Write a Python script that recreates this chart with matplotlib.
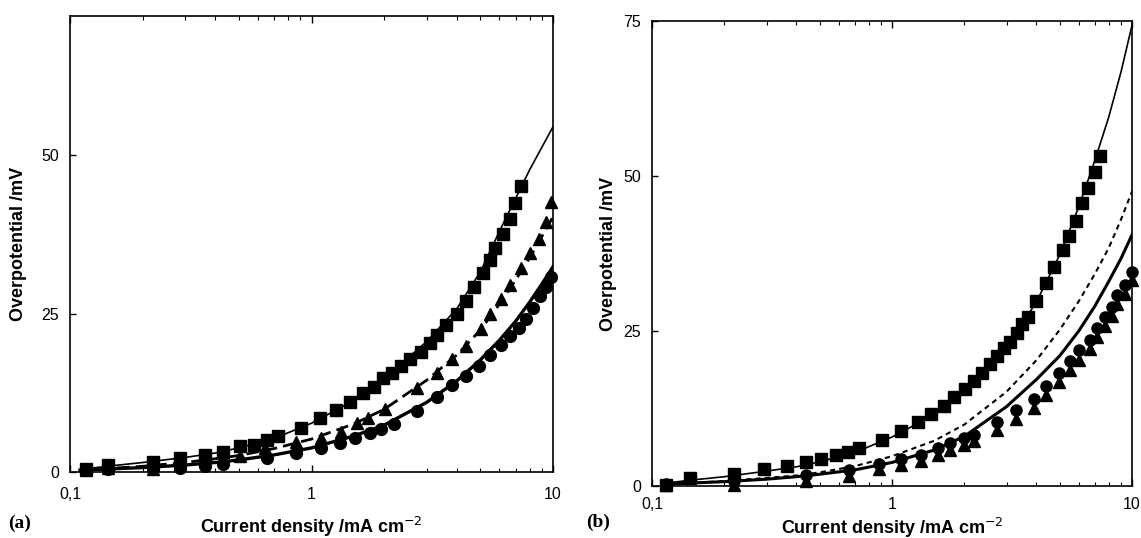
import matplotlib
matplotlib.use("Agg")
import matplotlib.pyplot as plt
from matplotlib.ticker import FixedLocator, FixedFormatter, LogLocator, NullFormatter

# ---- panel (a) data ----
a_sq_x = [0.116, 0.143, 0.22, 0.285, 0.363, 0.432, 0.505, 0.58, 0.654, 0.725, 0.908, 1.08, 1.26, 1.45,
          1.63, 1.81, 1.98, 2.15, 2.35, 2.56, 2.84, 3.10, 3.32, 3.61, 4.01, 4.37, 4.69, 5.11, 5.47,
          5.76, 6.18, 6.62, 6.97, 7.34]
a_sq_y = [0.5, 1.1, 1.6, 2.2, 2.7, 3.2, 4.1, 4.3, 5.1, 5.7, 7.0, 8.6, 9.8, 11.1,
          12.4, 13.5, 14.9, 15.7, 16.8, 17.8, 18.9, 20.3, 21.6, 23.2, 24.9, 27.0, 29.2, 31.4, 33.5,
          35.4, 37.6, 40.0, 42.5, 45.2]

a_tri_x = [0.116, 0.143, 0.22, 0.285, 0.363, 0.432, 0.505, 0.643, 0.861, 1.10, 1.33, 1.55, 1.72, 2.01,
           2.74, 3.32, 3.81, 4.37, 5.02, 5.47, 6.07, 6.62, 7.34, 8.0, 8.73, 9.35, 9.85]
a_tri_y = [0.3, 0.6, 0.5, 1.3, 1.7, 2.1, 2.6, 3.8, 4.7, 5.4, 6.3, 7.8, 8.6, 9.9,
           13.2, 15.6, 17.8, 19.9, 22.6, 24.9, 27.3, 29.5, 32.2, 34.6, 36.8, 39.5, 42.7]

a_cir_x = [0.116, 0.143, 0.22, 0.285, 0.363, 0.432, 0.654, 0.861, 1.10, 1.31, 1.52, 1.75, 1.94, 2.19,
           2.74, 3.32, 3.81, 4.37, 4.93, 5.47, 6.07, 6.62, 7.21, 7.73, 8.28, 8.87, 9.35, 9.85]
a_cir_y = [0.3, 0.4, 0.4, 0.7, 1.0, 1.3, 2.2, 3.0, 3.8, 4.6, 5.4, 6.2, 6.8, 7.6,
           9.7, 11.9, 13.8, 15.1, 16.8, 18.4, 20.0, 21.4, 22.7, 24.1, 25.9, 27.8, 29.2, 30.8]

# fitted curves (read at these current densities)
fit_x = [0.11, 0.15, 0.2, 0.3, 0.4, 0.5, 0.7, 1, 1.5, 2, 3, 4, 5, 6, 7, 8, 9, 10]
a_fit_sq = [0.4, 1.0, 1.5, 2.3, 3.0, 3.8, 5.3, 7.7, 11.3, 14.8, 20.6, 25.8, 31.6, 38.0, 43.2, 47.7, 51.3, 54.5]
a_fit_tri = [0.3, 0.6, 0.9, 1.5, 2.1, 2.6, 3.7, 5.2, 7.6, 9.9, 14.5, 18.5, 22.4, 26.5, 30.3, 33.8, 37.2, 40.3]
a_fit_cir = [0.3, 0.5, 0.7, 1.1, 1.5, 1.9, 2.7, 3.8, 5.7, 7.4, 11.0, 14.4, 17.7, 20.8, 23.8, 26.8, 29.7, 32.4]

# ---- panel (b) data ----
b_sq_x = [0.114, 0.144, 0.219, 0.293, 0.365, 0.438, 0.507, 0.582, 0.653, 0.731, 0.907, 1.09, 1.28, 1.46,
          1.64, 1.82, 2.01, 2.19, 2.38, 2.56, 2.75, 2.93, 3.11, 3.31, 3.47, 3.67, 4.0, 4.38, 4.72,
          5.15, 5.49, 5.82, 6.20, 6.58, 6.98, 7.35]
b_sq_y = [0.2, 1.3, 1.9, 2.7, 3.3, 3.9, 4.4, 5.0, 5.5, 6.1, 7.5, 8.9, 10.3, 11.6,
          12.9, 14.4, 15.7, 17.0, 18.3, 19.6, 21.0, 22.2, 23.3, 24.7, 26.1, 27.2, 29.8, 32.8, 35.4,
          38.0, 40.3, 42.8, 45.6, 48.1, 50.6, 53.2]

b_ct_x = [0.114, 0.22, 0.44, 0.66, 0.885, 1.09, 1.32, 1.55, 1.75, 2.0, 2.19, 2.75, 3.3, 3.9, 4.4,
          4.97, 5.53, 6.03, 6.7, 7.18, 7.7, 8.25, 8.7, 9.33, 10.0]
b_cir_y = [0.3, 0.8, 1.7, 2.6, 3.6, 4.4, 5.0, 6.1, 6.9, 7.8, 8.3, 10.3, 12.2, 14.1, 16.1,
           18.3, 20.2, 21.9, 23.6, 25.5, 27.2, 28.8, 30.8, 32.4, 34.5]
b_tri_y = [0.1, 0.2, 0.8, 1.6, 2.7, 3.4, 4.0, 5.0, 5.8, 6.6, 7.2, 9.0, 10.8, 12.6, 14.6,
           16.8, 18.7, 20.4, 22.1, 24.0, 25.8, 27.4, 29.4, 31.0, 33.2]

b_fit_sq = [0.4, 1.0, 1.5, 2.4, 3.1, 3.9, 5.4, 7.9, 11.5, 15.0, 22.3, 29.7, 37.3, 45.0, 52.5, 59.5, 66.8, 74.3]
b_fit_dash = [0.2, 0.5, 0.8, 1.3, 1.7, 2.2, 3.2, 4.8, 7.3, 9.9, 15.2, 20.3, 25.2, 29.8, 34.2, 38.4, 43.0, 47.5]
b_fit_thick = [0.3, 0.5, 0.7, 1.1, 1.5, 1.9, 2.6, 3.8, 5.8, 8.0, 12.8, 17.2, 21.0, 25.0, 29.0, 33.0, 36.7, 40.5]

x_ticks = [0.1, 1, 10]
x_ticklabels = ["0,1", "1", "10"]

plt.rcParams['font.family'] = ['Liberation Sans', 'DejaVu Sans']

fig = plt.figure(figsize=(11.41, 5.38), dpi=100)
ax1 = fig.add_axes([70 / 1141, 66 / 538, 483 / 1141, 456 / 538])
ax2 = fig.add_axes([652 / 1141, 52 / 538, 480 / 1141, 465 / 538])

mk = dict(color='black', linestyle='none', clip_on=False, zorder=3)


def style_axis(ax, ymax, yticks, xpad):
    ax.set_xscale('log')
    ax.set_xlim(0.1, 10)
    ax.set_ylim(0, ymax)
    ax.xaxis.set_major_locator(FixedLocator(x_ticks))
    ax.xaxis.set_major_formatter(FixedFormatter(x_ticklabels))
    ax.xaxis.set_minor_locator(LogLocator(base=10, subs=range(2, 10)))
    ax.xaxis.set_minor_formatter(NullFormatter())
    ax.set_yticks(yticks)
    ax.tick_params(axis='x', which='major', direction='in', length=5, width=1, top=True,
                   labelsize=11.5, pad=xpad)
    ax.tick_params(axis='x', which='minor', direction='in', length=3, width=0.8, top=True)
    ax.tick_params(axis='y', direction='in', length=4, width=1, labelsize=11.5, pad=8)
    for s in ax.spines.values():
        s.set_linewidth(1.2)
    ax.set_xlabel('Current density /mA cm$^{\\mathsf{-2}}$', fontsize=13, fontweight='bold')
    ax.set_ylabel('Overpotential /mV', fontsize=13, fontweight='bold')


# panel (a)
ax1.plot(fit_x, a_fit_sq, color='black', lw=1.2)
ax1.plot(fit_x, a_fit_tri, color='black', lw=2, dashes=(4.5, 2.2))
ax1.plot(fit_x, a_fit_cir, color='black', lw=2.4)
ax1.plot(a_sq_x, a_sq_y, marker='s', markersize=8, **mk)
ax1.plot(a_tri_x, a_tri_y, marker='^', markersize=9, **mk)
ax1.plot(a_cir_x, a_cir_y, marker='o', markersize=8.5, **mk)
style_axis(ax1, 72, [0, 25, 50], 11)
ax1.xaxis.set_label_coords(0.5, -0.094)
ax1.yaxis.set_label_coords(-0.088, 0.5)

# panel (b)
ax2.plot(fit_x, b_fit_sq, color='black', lw=1.2)
ax2.plot(fit_x, b_fit_dash, color='black', lw=1.5, dashes=(2.5, 2))
ax2.plot(fit_x, b_fit_thick, color='black', lw=2.2)
ax2.plot(b_sq_x, b_sq_y, marker='s', markersize=8, **mk)
ax2.plot(b_ct_x, b_tri_y, marker='^', markersize=8.5, **mk)
ax2.plot(b_ct_x, b_cir_y, marker='o', markersize=8, **mk)
style_axis(ax2, 75, [0, 25, 50, 75], 8)
ax2.xaxis.set_label_coords(0.5, -0.064)
ax2.yaxis.set_label_coords(-0.072, 0.5)

fig.text(20 / 1141, 1 - 523 / 538, '(a)', family='Liberation Serif', fontweight='bold',
         fontsize=14, ha='center', va='center')
fig.text(598 / 1141, 1 - 522 / 538, '(b)', family='Liberation Serif', fontweight='bold',
         fontsize=14, ha='center', va='center')

fig.savefig('out.png', dpi=100)
